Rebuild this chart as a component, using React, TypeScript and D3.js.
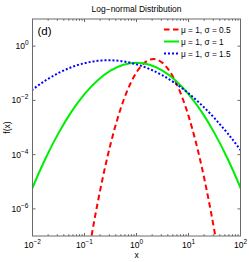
import React from "react";
import * as d3 from "d3";

// log10(x) grid points and log10(f(x)) values
const logX = [-2.25, -2, -1.75, -1.5, -1.25, -1, -0.75, -0.5, -0.25, 0, 0.25, 0.5, 0.75, 1, 1.25, 1.5, 1.75, 2, 2.25];
const logF_sigma05 = [NaN, NaN, NaN, NaN, -11.91, -8.572, -5.807, -3.618, -2.004, -0.9667, -0.5045, -0.618, -1.307, -2.572, -4.412, -6.828, -9.82, -13.39, NaN];
const logF_sigma1 = [-6.445, -5.221, -4.142, -3.207, -2.415, -1.768, -1.264, -0.904, -0.688, -0.616, -0.688, -0.904, -1.264, -1.768, -2.415, -3.207, -4.142, -5.221, -6.445];
const logF_sigma15 = [-2.012, -1.607, -1.2665, -0.9897, -0.7767, -0.6278, -0.5428, -0.5218, -0.5648, -0.6717, -0.8426, -1.0774, -1.3762, -1.739, -2.1657, -2.6563, -3.211, -3.8296, -4.5121];

const seriesLabels = ["μ = 1, σ = 0.5", "μ = 1, σ = 1", "μ = 1, σ = 1.5"];
const xTickExps = [-2, -1, 0, 1, 2];
const yTickExps = [-6, -4, -2, 0];

const W = 249, H = 262;
const L = 32.5, R = 240.5, T = 19, B = 236;
const FONT = "'Liberation Sans', Arial, Helvetica, sans-serif";
const AX = "#6a6a6a";

function fmtExp(e: number) {
  return e < 0 ? "\u2212" + Math.abs(e) : String(e);
}

export default function App() {
  const x = d3.scaleLog().domain([1e-2, 1e2]).range([L, R]);
  const y = d3.scaleLog().domain([1e-7, 1e1]).range([B, T]);

  const mk = (vals: number[]) => {
    const pts = logX.map((lx, i) => [lx, vals[i]] as [number, number]).filter((p) => !isNaN(p[1]));
    return d3
      .line<[number, number]>()
      .x((p) => x(Math.pow(10, p[0])))
      .y((p) => y(Math.pow(10, p[1])))
      .curve(d3.curveNatural)(pts) as string;
  };

  const styles = [
    { color: "#ff0000", dash: "5.5,3.5", vals: logF_sigma05 },
    { color: "#00ee00", dash: "", vals: logF_sigma1 },
    { color: "#0000ff", dash: "2,2", vals: logF_sigma15 },
  ];

  const minorX: number[] = [];
  for (let e = -2; e < 2; e++) for (let k = 2; k <= 9; k++) minorX.push(k * Math.pow(10, e));

  return (
    <svg width={W} height={H} style={{ position: "absolute", left: 0, top: 0, background: "#fff" }}>
      <defs>
        <clipPath id="plotclip">
          <rect x={L} y={T} width={R - L} height={B - T} />
        </clipPath>
      </defs>
      <rect x={0} y={0} width={W} height={H} fill="#fff" />
      {/* curves */}
      <g clipPath="url(#plotclip)">
        {styles.map((s, i) => (
          <path key={i} d={mk(s.vals)} fill="none" stroke={s.color} strokeWidth={2} strokeDasharray={s.dash || undefined} />
        ))}
      </g>
      {/* axes box */}
      <rect x={L} y={T} width={R - L} height={B - T} fill="none" stroke={AX} strokeWidth={1} />
      {/* x ticks */}
      {xTickExps.map((e) => {
        const px = x(Math.pow(10, e));
        return (
          <g key={"xt" + e}>
            <line x1={px} x2={px} y1={B} y2={B - 3} stroke={AX} />
            <line x1={px} x2={px} y1={T} y2={T + 3} stroke={AX} />
            <text x={px} y={248} fontFamily={FONT} fontSize={8.5} textAnchor="middle" fill="#000">
              10<tspan dy={-4} fontSize={6.5}>{fmtExp(e)}</tspan>
            </text>
          </g>
        );
      })}
      {minorX.map((v, i) => {
        const px = x(v);
        return (
          <g key={"xm" + i}>
            <line x1={px} x2={px} y1={B} y2={B - 1.8} stroke={AX} />
            <line x1={px} x2={px} y1={T} y2={T + 1.8} stroke={AX} />
          </g>
        );
      })}
      {/* y ticks */}
      {yTickExps.map((e) => {
        const py = y(Math.pow(10, e));
        return (
          <g key={"yt" + e}>
            <line x1={L} x2={L + 3} y1={py} y2={py} stroke={AX} />
            <line x1={R} x2={R - 3} y1={py} y2={py} stroke={AX} />
            <text x={28.5} y={py + 3} fontFamily={FONT} fontSize={8.5} textAnchor="end" fill="#000">
              10<tspan dy={-4} fontSize={6.5}>{fmtExp(e)}</tspan>
            </text>
          </g>
        );
      })}
      {/* title and labels */}
      <text x={(L + R) / 2} y={12} fontFamily={FONT} fontSize={8.5} textAnchor="middle" fill="#000">
        Log{"\u2212"}normal Distribution
      </text>
      <text x={(L + R) / 2} y={258} fontFamily={FONT} fontSize={8.5} textAnchor="middle" fill="#000">
        x
      </text>
      <text
        transform={`translate(10,${(T + B) / 2}) rotate(-90)`}
        fontFamily={FONT}
        fontSize={8.5}
        textAnchor="middle"
        fill="#000"
      >
        f(x)
      </text>
      <text x={37.5} y={35} fontFamily={FONT} fontSize={11.5} fill="#000">
        (d)
      </text>
      {/* legend */}
      {styles.map((s, i) => {
        const cy = 29.5 + i * 12;
        return (
          <g key={"lg" + i}>
            <line x1={164} x2={179} y1={cy} y2={cy} stroke={s.color} strokeWidth={2} strokeDasharray={s.dash || undefined} />
            <text x={181} y={cy + 3} fontFamily={FONT} fontSize={8.3} fill="#000">
              {seriesLabels[i]}
            </text>
          </g>
        );
      })}
    </svg>
  );
}
